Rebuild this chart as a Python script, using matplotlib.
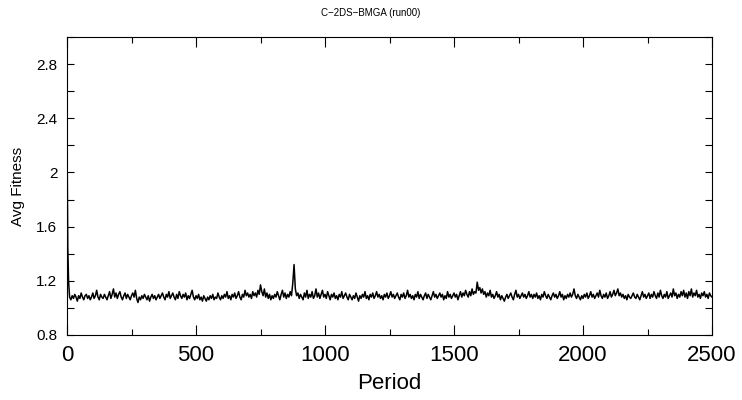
import numpy as np
import matplotlib
matplotlib.use("Agg")
import matplotlib.pyplot as plt
from matplotlib.ticker import MultipleLocator

plt.rcParams['font.family'] = ['Liberation Sans', 'DejaVu Sans']

###   DONNEES   ###

titre = "C\u22122DS\u2212BMGA (run00)"

# debut de la courbe (chute rapide)
periodes_debut = [0, 3, 6]
fitness_debut = [2.29, 1.45, 1.20]

# ensuite une valeur toutes les 5 periodes, de 10 a 2500
periodes_suite = list(range(10, 2501, 5))
fitness_suite = [
    1.08, 1.06, 1.09, 1.07, 1.10, 1.08, 1.05, 1.09, 1.07,
    1.11, 1.08, 1.06, 1.09, 1.10, 1.07, 1.09, 1.06, 1.08, 1.11,
    1.07, 1.09, 1.13, 1.08, 1.06, 1.10, 1.08, 1.07, 1.10, 1.08,
    1.06, 1.09, 1.12, 1.07, 1.10, 1.14, 1.08, 1.11, 1.07, 1.10,
    1.12, 1.08, 1.06, 1.09, 1.11, 1.07, 1.10, 1.08, 1.06, 1.09,
    1.11, 1.08, 1.13, 1.07, 1.04, 1.08, 1.06, 1.09, 1.07, 1.10,
    1.08, 1.06, 1.09, 1.05, 1.08, 1.10, 1.07, 1.09, 1.06, 1.08,
    1.10, 1.07, 1.09, 1.11, 1.08, 1.06, 1.10, 1.08, 1.12, 1.07,
    1.09, 1.11, 1.08, 1.06, 1.10, 1.07, 1.12, 1.09, 1.07, 1.10,
    1.08, 1.11, 1.06, 1.09, 1.07, 1.10, 1.13, 1.08, 1.06, 1.09,
    1.07, 1.10, 1.06, 1.08, 1.05, 1.09, 1.07, 1.05, 1.08, 1.06,
    1.09, 1.07, 1.10, 1.06, 1.08, 1.07, 1.11, 1.08, 1.06, 1.09,
    1.07, 1.10, 1.08, 1.12, 1.07, 1.09, 1.06, 1.10, 1.08, 1.11,
    1.07, 1.09, 1.12, 1.08, 1.06, 1.10, 1.08, 1.13, 1.09, 1.11,
    1.08, 1.10, 1.07, 1.12, 1.09, 1.11, 1.08, 1.13, 1.10, 1.17,
    1.12, 1.09, 1.14, 1.08, 1.11, 1.07, 1.10, 1.06, 1.09, 1.07,
    1.10, 1.08, 1.12, 1.09, 1.06, 1.10, 1.13, 1.08, 1.11, 1.07,
    1.10, 1.08, 1.12, 1.09, 1.18, 1.32, 1.14, 1.09, 1.11, 1.07,
    1.10, 1.08, 1.06, 1.11, 1.08, 1.13, 1.07, 1.10, 1.08, 1.12,
    1.07, 1.09, 1.14, 1.08, 1.11, 1.07, 1.10, 1.13, 1.08, 1.10,
    1.07, 1.12, 1.09, 1.06, 1.10, 1.08, 1.11, 1.07, 1.09, 1.06,
    1.10, 1.08, 1.12, 1.07, 1.09, 1.11, 1.08, 1.06, 1.10, 1.08,
    1.06, 1.09, 1.07, 1.11, 1.08, 1.05, 1.09, 1.07, 1.10, 1.08,
    1.12, 1.07, 1.09, 1.06, 1.10, 1.08, 1.11, 1.07, 1.09, 1.12,
    1.08, 1.10, 1.07, 1.09, 1.06, 1.10, 1.08, 1.11, 1.07, 1.09,
    1.12, 1.08, 1.10, 1.07, 1.09, 1.11, 1.08, 1.06, 1.10, 1.08,
    1.11, 1.07, 1.09, 1.13, 1.08, 1.10, 1.07, 1.09, 1.06, 1.10,
    1.08, 1.12, 1.07, 1.10, 1.08, 1.06, 1.09, 1.11, 1.07, 1.10,
    1.08, 1.06, 1.09, 1.12, 1.08, 1.10, 1.07, 1.09, 1.11, 1.08,
    1.10, 1.06, 1.09, 1.07, 1.12, 1.08, 1.10, 1.07, 1.09, 1.11,
    1.08, 1.10, 1.06, 1.09, 1.12, 1.08, 1.11, 1.09, 1.13, 1.10,
    1.08, 1.12, 1.09, 1.14, 1.10, 1.12, 1.11, 1.19, 1.13, 1.15,
    1.11, 1.14, 1.10, 1.12, 1.08, 1.11, 1.09, 1.13, 1.08, 1.10,
    1.07, 1.09, 1.12, 1.08, 1.10, 1.06, 1.09, 1.07, 1.05, 1.08,
    1.10, 1.07, 1.09, 1.11, 1.08, 1.06, 1.10, 1.13, 1.08, 1.10,
    1.07, 1.09, 1.11, 1.08, 1.10, 1.07, 1.09, 1.12, 1.08, 1.10,
    1.07, 1.10, 1.08, 1.11, 1.07, 1.09, 1.06, 1.10, 1.08, 1.12,
    1.09, 1.07, 1.10, 1.08, 1.06, 1.09, 1.11, 1.08, 1.10, 1.07,
    1.09, 1.12, 1.08, 1.10, 1.06, 1.09, 1.07, 1.10, 1.08, 1.11,
    1.08, 1.10, 1.14, 1.09, 1.07, 1.10, 1.08, 1.06, 1.09, 1.07,
    1.10, 1.08, 1.11, 1.07, 1.09, 1.12, 1.08, 1.10, 1.07, 1.09,
    1.11, 1.08, 1.13, 1.09, 1.07, 1.10, 1.08, 1.11, 1.07, 1.09,
    1.12, 1.08, 1.10, 1.13, 1.09, 1.11, 1.14, 1.09, 1.11, 1.08,
    1.10, 1.07, 1.09, 1.06, 1.10, 1.08, 1.07, 1.09, 1.11, 1.08,
    1.07, 1.10, 1.08, 1.06, 1.09, 1.12, 1.08, 1.10, 1.07, 1.09,
    1.11, 1.07, 1.10, 1.08, 1.12, 1.09, 1.07, 1.11, 1.08, 1.13,
    1.09, 1.07, 1.10, 1.08, 1.12, 1.07, 1.09, 1.11, 1.08, 1.14,
    1.09, 1.11, 1.07, 1.10, 1.08, 1.12, 1.09, 1.13, 1.08, 1.11,
    1.07, 1.12, 1.09, 1.14, 1.08, 1.11, 1.09, 1.13, 1.08, 1.10,
    1.07, 1.11, 1.09, 1.12, 1.08, 1.10, 1.07, 1.11, 1.09, 1.08,
]

periodes = periodes_debut + periodes_suite
fitness = fitness_debut + fitness_suite

###   PLOT   ###

fig = plt.figure(figsize=(7.42, 4.0), dpi=100)
ax = fig.add_axes([0.0903, 0.1625, 0.8693, 0.745])

ax.plot(periodes, fitness, color="black", linewidth=1.1)

ax.set_xlim(0, 2500)
ax.set_ylim(0.8, 3.0)
ax.xaxis.set_major_locator(MultipleLocator(500))
ax.xaxis.set_minor_locator(MultipleLocator(250))
ax.yaxis.set_minor_locator(MultipleLocator(0.2))
ax.set_yticks([0.8, 1.2, 1.6, 2.0, 2.4, 2.8])
ax.set_yticklabels(["0.8", "1.2", "1.6", "2", "2.4", "2.8"])

ax.tick_params(which="both", direction="in", top=True, right=True, width=0.8)
ax.tick_params(axis="x", which="major", length=7, labelsize=16, pad=7)
ax.tick_params(axis="x", which="minor", length=4)
ax.tick_params(axis="y", which="both", length=5, labelsize=11, pad=7)
for s in ax.spines.values():
    s.set_linewidth(0.8)

ax.set_xlabel("Period", fontsize=16, labelpad=5)
ax.set_ylabel("Avg Fitness", fontsize=11, labelpad=8)
fig.text(0.5, 0.968, titre, ha="center", va="center", fontsize=7)

fig.savefig("out.png", dpi=100)
